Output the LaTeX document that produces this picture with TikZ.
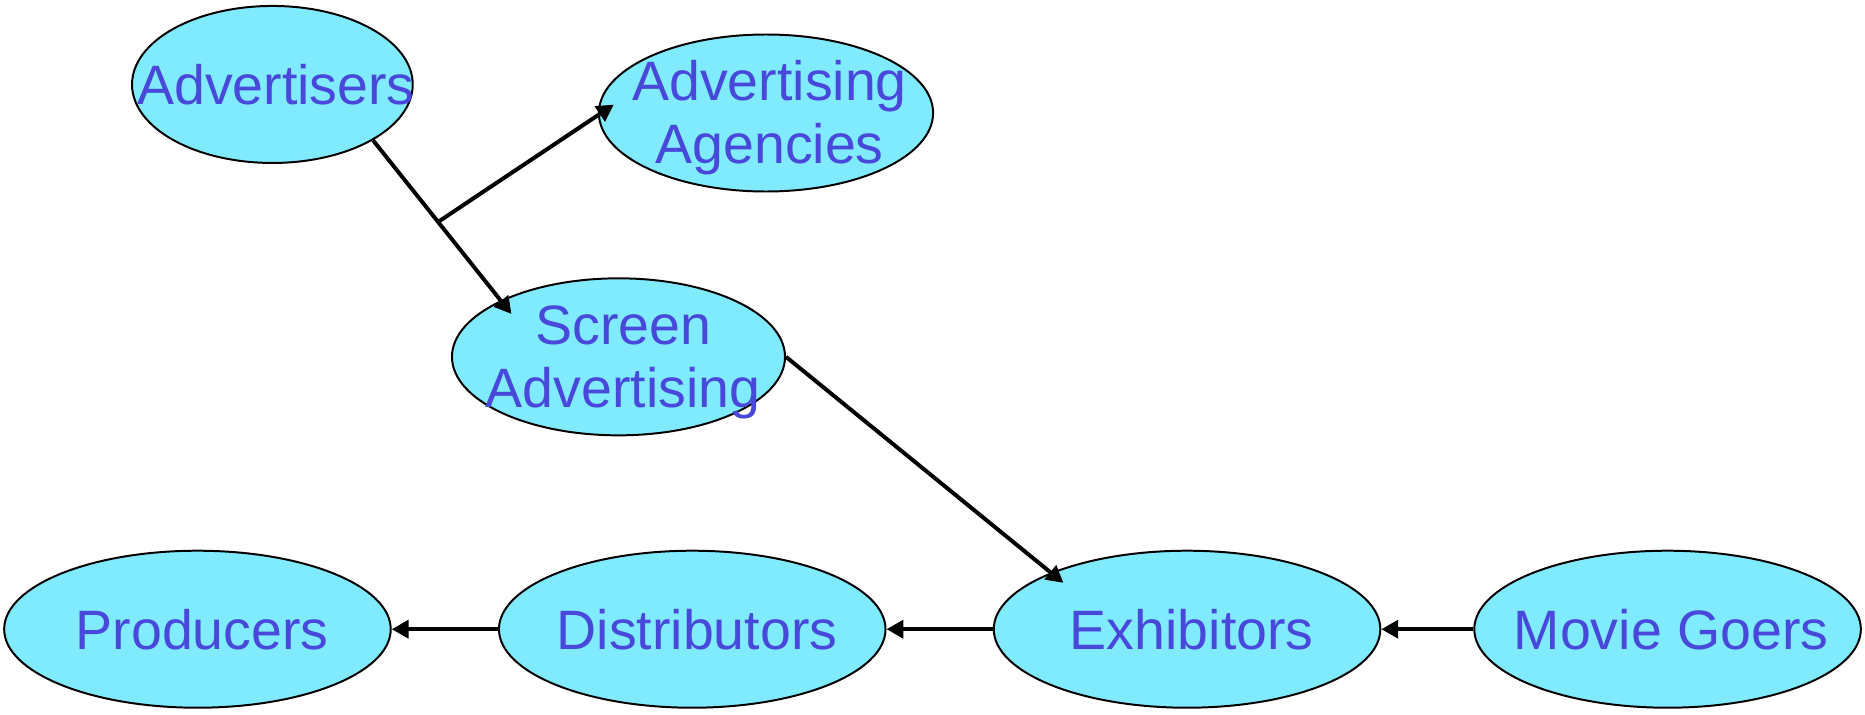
\documentclass[tikz,border=0pt]{standalone}
\usepackage{fontspec}
\setmainfont{Liberation Sans}
\usetikzlibrary{arrows.meta,shapes.geometric,calc}
\definecolor{fillc}{RGB}{128,235,255}
\definecolor{txtc}{RGB}{72,72,218}
\begin{document}
\begin{tikzpicture}[x=0.6pt,y=-0.6pt,
  ell/.style={ellipse, draw=black, line width=1pt, fill=fillc, inner sep=0pt, minimum height=79.2pt},
  lbl/.style={text=txtc, font=\fontsize{28}{32}\selectfont, align=center, inner sep=0pt, text height=20pt, text depth=0pt},
  conn/.style={line width=2pt, draw=black},
  arr/.style={conn, -{Triangle[length=8.5pt,width=9pt]}}]
\useasboundingbox (0,0) rectangle (1568,600.3);
% ellipses
\node[ell, minimum width=141.6pt] (adv) at (229,71) {};
\node[ell, minimum width=168.6pt] (age) at (644,95) {};
\node[ell, minimum width=168pt] (scr) at (520,300) {};
\node[ell, minimum width=195pt] (pro) at (166,529) {};
\node[ell, minimum width=195pt] (dis) at (582,529) {};
\node[ell, minimum width=195pt] (exh) at (998,529) {};
\node[ell, minimum width=195pt] (mov) at (1402,529) {};
% connector points
\coordinate (tipS) at (430,264);
\coordinate (tipA) at (516,88);
\coordinate (tipE) at (894,490);
\coordinate (j) at ($(adv.-29)!0.47!(tipS)$);
% connectors
\draw[arr] (adv.-29) -- (tipS);
\draw[arr] (j) -- (tipA);
\draw[arr] (scr.east) -- (tipE);
\draw[arr] (mov.west) -- (exh.east);
\draw[arr] (exh.west) -- (dis.east);
\draw[arr] (dis.west) -- (pro.east);
% labels
\node[lbl] (advt) at (232,71) {Advertisers};
\node[lbl] (aget) at (647,121) {Advertising\\Agencies};
\node[lbl] (scrt) at (524,326) {Screen\\Advertising};
\node[lbl] (prot) at (170,529) {Producers};
\node[lbl] (dist) at (586,529) {Distributors};
\node[lbl] (exht) at (1002,529) {Exhibitors};
\node[lbl] (movt) at (1405,529) {Movie Goers};
\end{tikzpicture}
\end{document}
